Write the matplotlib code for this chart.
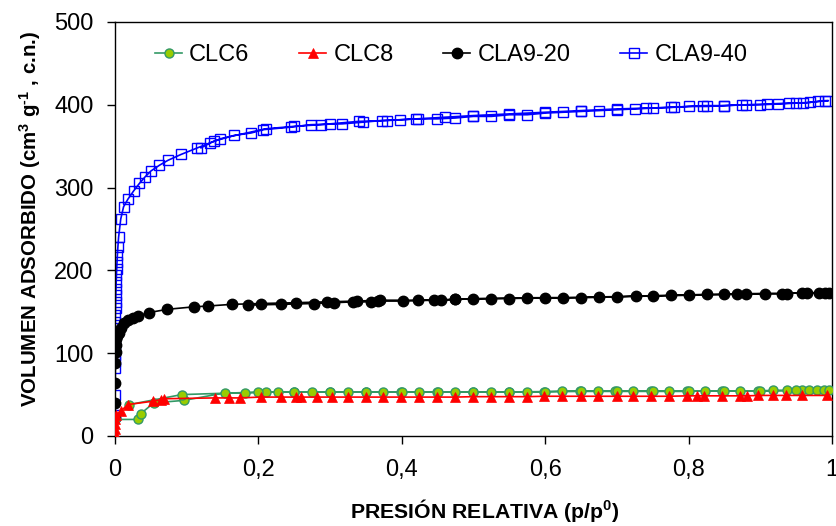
import matplotlib
matplotlib.use("Agg")
import matplotlib.pyplot as plt
from matplotlib.ticker import FuncFormatter

plt.rcParams['font.family'] = ['Liberation Sans', 'DejaVu Sans']
plt.rcParams['mathtext.fontset'] = 'custom'
plt.rcParams['mathtext.rm'] = 'Liberation Sans:bold'
plt.rcParams['mathtext.it'] = 'Liberation Sans:bold'
plt.rcParams['mathtext.bf'] = 'Liberation Sans:bold'
plt.rcParams['mathtext.default'] = 'rm'

# ---------------- data ----------------
# CLC6 (adsorption + desorption)
clc6_p = [0.0003, 0.032, 0.036, 0.054, 0.096, 0.153, 0.182, 0.21, 0.227, 0.25, 0.275, 0.30, 0.325,
          0.35, 0.374, 0.399, 0.424, 0.449, 0.474, 0.499, 0.524, 0.549, 0.574, 0.598, 0.623,
          0.648, 0.673, 0.698, 0.723, 0.748, 0.773, 0.798, 0.823, 0.847, 0.872, 0.897, 0.918,
          0.937, 0.958, 0.968, 0.979, 0.989, 0.996,
          0.95, 0.90, 0.85, 0.80, 0.75, 0.70, 0.65, 0.60, 0.55, 0.50, 0.45, 0.40, 0.35, 0.30,
          0.25, 0.20, 0.093, 0.02]
clc6_v = [20, 20, 27, 40, 43, 52, 52, 53, 53, 53, 53, 53, 53,
          53, 53, 53, 53, 53, 53, 53, 53, 53, 53.5, 53.5, 54,
          54, 54, 54, 54, 54, 54, 54, 54.5, 54.5, 54.5, 54.5, 55,
          55, 55, 55, 55, 55, 55,
          55, 54.5, 54.5, 54, 54, 54, 54, 53.5, 53, 53, 53, 53, 53, 53,
          53, 53, 50, 38]

# CLC8
clc8_p = [0.0001, 0.0002, 0.0003, 0.0005, 0.001, 0.008, 0.018, 0.053, 0.064, 0.068, 0.14,
          0.159, 0.174, 0.203, 0.232, 0.252, 0.259, 0.282, 0.302, 0.325, 0.35, 0.374, 0.399,
          0.424, 0.449, 0.474, 0.499, 0.524, 0.549, 0.574, 0.598, 0.624, 0.65, 0.673, 0.70,
          0.723, 0.748, 0.773, 0.798, 0.812, 0.821, 0.847, 0.872, 0.882, 0.897, 0.918, 0.936,
          0.958, 0.993]
clc8_v = [3, 8, 14, 20, 25, 30, 38, 42, 44, 45, 46,
          46, 46, 47, 47, 47, 47, 47, 47, 47, 47, 47, 47,
          47, 47, 47, 47.5, 47.5, 47.5, 47.5, 48, 48, 48, 48, 48,
          48, 48, 48, 48.5, 48.5, 48.5, 48.5, 48.5, 48.5, 49, 49, 49,
          49, 49]

# CLA9-20
cla20_p = [0.0001, 0.0002, 0.0003, 0.0005, 0.0008, 0.0012, 0.002, 0.003, 0.005, 0.008, 0.012,
           0.018, 0.025, 0.032, 0.047, 0.073, 0.11, 0.13, 0.163, 0.203, 0.252, 0.295, 0.338,
           0.37, 0.423, 0.474, 0.50, 0.55, 0.60, 0.65, 0.70, 0.726, 0.776, 0.825, 0.868, 0.906,
           0.937, 0.958, 0.982, 0.996,
           0.99, 0.965, 0.93, 0.88, 0.85, 0.80, 0.75, 0.675, 0.625, 0.575, 0.525, 0.474, 0.455,
           0.445, 0.401, 0.367, 0.357, 0.332, 0.306, 0.278, 0.231, 0.185]
cla20_v = [22, 40, 64, 88, 102, 110, 117, 121, 125, 130, 136,
           140, 143, 145, 149, 153, 156, 157, 159, 160, 161, 162, 163,
           164, 164, 165, 166, 166, 167, 167, 168, 169, 170, 171, 171, 172,
           172, 173, 173, 173,
           173, 173, 172, 172, 171, 170, 169, 168, 167, 167, 166, 165, 164,
           164, 163, 163, 162, 162, 161, 160, 159, 158]

# CLA9-40
cla40_p = [0.00001, 0.00002, 0.00003, 0.00004, 0.00007, 0.0001, 0.00015, 0.0002, 0.0003, 0.0004,
           0.0005, 0.0007, 0.0009, 0.0011, 0.0014, 0.0017, 0.002, 0.0024, 0.0028, 0.0033, 0.004,
           0.005, 0.008, 0.012, 0.018, 0.026, 0.034, 0.042, 0.05, 0.062, 0.074, 0.092, 0.115,
           0.138, 0.166, 0.19, 0.207, 0.245, 0.273, 0.317, 0.346, 0.372, 0.398, 0.423, 0.449,
           0.474, 0.50, 0.525, 0.55, 0.575, 0.60, 0.625, 0.65, 0.675, 0.70, 0.725, 0.75, 0.775,
           0.80, 0.825, 0.85, 0.875, 0.90, 0.925, 0.95, 0.97, 0.99,
           0.995, 0.98, 0.96, 0.94, 0.91, 0.88, 0.85, 0.82, 0.78, 0.74, 0.70, 0.65, 0.60, 0.55,
           0.50, 0.46, 0.42, 0.38, 0.34, 0.30, 0.287, 0.25, 0.21, 0.147, 0.133, 0.12]
cla40_v = [25, 49, 82, 90, 98, 106, 114, 122, 130, 138,
           146, 154, 162, 170, 178, 186, 194, 202, 210, 218, 228,
           240, 262, 277, 286, 296, 305, 313, 320, 327, 333, 340, 348,
           356, 363, 366, 370, 373, 376, 377, 379, 381, 382, 383, 383,
           384, 386, 386, 388, 388, 390, 391, 392, 393, 394, 395, 396, 397,
           398, 398, 399, 400, 400, 401, 402, 403, 405,
           405, 404, 402, 402, 401, 400, 399, 399, 397, 396, 395, 393, 391, 389,
           387, 385, 383, 381, 380, 377, 376, 374, 371, 359, 354, 348]

x_ticks = [0, 0.2, 0.4, 0.6, 0.8, 1.0]
y_ticks = [0, 100, 200, 300, 400, 500]

# ---------------- figure ----------------
fig = plt.figure(figsize=(8.37, 5.26), dpi=100)
ax = fig.add_axes([115/837, 90/526, (832-115)/837, (436-22)/526])

l1, = ax.plot(clc6_p, clc6_v, color='#339966', lw=1.2, marker='o', ms=6.5,
              mfc='#99cc00', mec='#339966', mew=1.0, label='CLC6', zorder=3)
l2, = ax.plot(clc8_p, clc8_v, color='#ff0000', lw=1.2, marker='^', ms=7.5,
              mfc='#ff0000', mec='#ff0000', mew=0.5, label='CLC8', zorder=4)
l3, = ax.plot(cla20_p, cla20_v, color='#000000', lw=1.2, marker='o', ms=7.5,
              mfc='#000000', mec='#000000', label='CLA9-20', zorder=2)
l4, = ax.plot(cla40_p, cla40_v, color='#0000ff', lw=1.2, marker='s', ms=7,
              mfc='none', mec='#0000ff', mew=1.0, label='CLA9-40', zorder=1)

ax.set_xlim(0, 1)
ax.set_ylim(0, 500)
ax.set_xticks(x_ticks)
ax.set_yticks(y_ticks)
ax.xaxis.set_major_formatter(FuncFormatter(lambda v, pos: ('%g' % v).replace('.', ',')))
ax.tick_params(axis='both', direction='out', length=5.5, width=1, labelsize=17, colors='black')
ax.tick_params(axis='x', pad=11)
ax.tick_params(axis='y', pad=10)
for s in ax.spines.values():
    s.set_linewidth(1.0)

ax.set_xlabel('PRESIÓN RELATIVA (p/p$^{0}$)', fontsize=15.3, fontweight='bold')
ax.set_ylabel('VOLUMEN ADSORBIDO (cm$^{3}$ g$^{\\text{-}1}$ , c.n.)', fontsize=14.8,
              fontweight='bold')
ax.xaxis.set_label_coords((484.5 - 115) / 717, -(511 - 436) / 414, transform=ax.transAxes)
ax.yaxis.set_label_coords(-(115 - 30) / 717, (436 - 219) / 414, transform=ax.transAxes)
ax.xaxis.label.set_va('center')
ax.yaxis.label.set_va('center')

fig.legend(handles=[l1, l2, l3, l4], loc='center left', bbox_to_anchor=(155/837, 1 - 55/526),
           ncol=4, frameon=False, fontsize=17, handlelength=1.15, handletextpad=0.3,
           columnspacing=2.1, borderpad=0, borderaxespad=0)

fig.savefig('out.png', dpi=100)
